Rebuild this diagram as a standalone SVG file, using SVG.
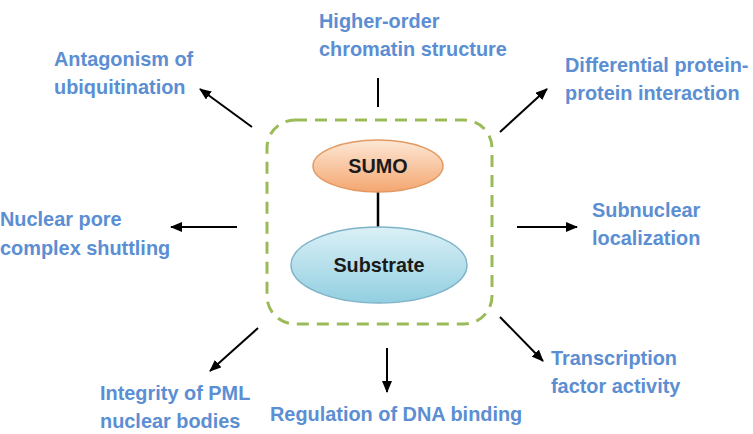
<svg xmlns="http://www.w3.org/2000/svg" width="753" height="434" viewBox="0 0 753 434">
<style>
.lbl{font-family:"Liberation Sans",Arial,sans-serif;font-weight:bold;font-size:19.9px;fill:#5b8ed2}
.nl{font-family:"Liberation Sans",Arial,sans-serif;font-weight:bold;font-size:19.8px;fill:#1a1a1a;text-anchor:middle}
.arr{stroke:#000;stroke-width:2;fill:none;marker-end:url(#ah)}
</style>
<defs>
<marker id="ah" viewBox="0 0 12 10" refX="11" refY="5" markerWidth="12" markerHeight="10" markerUnits="userSpaceOnUse" orient="auto">
<path d="M0,0 L12,5 L0,10 Z" fill="#000"/>
</marker>
<linearGradient id="gs" x1="0" y1="0" x2="0" y2="1">
<stop offset="0" stop-color="#fde8d6"/>
<stop offset="1" stop-color="#f4a670"/>
</linearGradient>
<linearGradient id="gb" x1="0" y1="0" x2="0" y2="1">
<stop offset="0" stop-color="#dbf0f6"/>
<stop offset="1" stop-color="#92cfe1"/>
</linearGradient>
</defs>
<rect width="753" height="434" fill="#fff"/>
<rect x="267" y="120" width="225" height="204" rx="28" fill="none" stroke="#9bbb59" stroke-width="3" stroke-dasharray="12,8"/>
<g id="connectors">
<line x1="378" y1="192" x2="378" y2="228" stroke="#000" stroke-width="2.5"/>
<line x1="378" y1="78" x2="378" y2="107" stroke="#000" stroke-width="2"/>
<line class="arr" x1="252" y1="127" x2="200" y2="89"/>
<line class="arr" x1="500" y1="132" x2="547" y2="89"/>
<line class="arr" x1="237" y1="227" x2="171" y2="227"/>
<line class="arr" x1="517" y1="227" x2="577" y2="227"/>
<line class="arr" x1="258" y1="328" x2="210" y2="371"/>
<line class="arr" x1="387" y1="348" x2="387" y2="392"/>
<line class="arr" x1="500" y1="317" x2="543" y2="361"/>
</g>
<g id="sumo">
<ellipse cx="378" cy="166" rx="65" ry="26" fill="url(#gs)" stroke="#e39a62" stroke-width="1.5"/>
<text class="nl" x="378" y="173">SUMO</text>
</g>
<g id="substrate">
<ellipse cx="379" cy="265" rx="88" ry="38" fill="url(#gb)" stroke="#7fb3c7" stroke-width="1.5"/>
<text class="nl" x="379" y="272">Substrate</text>
</g>
<g id="higher-order"><text class="lbl" x="319" y="28">Higher-order</text><text class="lbl" x="319" y="56">chromatin structure</text></g>
<g id="antagonism"><text class="lbl" x="54" y="66">Antagonism of</text><text class="lbl" x="54" y="94">ubiquitination</text></g>
<g id="differential"><text class="lbl" x="565" y="72">Differential protein-</text><text class="lbl" x="565" y="100">protein interaction</text></g>
<g id="nuclear-pore"><text class="lbl" x="0" y="226">Nuclear pore</text><text class="lbl" x="0" y="255">complex shuttling</text></g>
<g id="subnuclear"><text class="lbl" x="592" y="217">Subnuclear</text><text class="lbl" x="592" y="245">localization</text></g>
<g id="pml"><text class="lbl" x="100" y="400">Integrity of PML</text><text class="lbl" x="100" y="428">nuclear bodies</text></g>
<g id="dna"><text class="lbl" x="270" y="421">Regulation of DNA binding</text></g>
<g id="transcription"><text class="lbl" x="551" y="365">Transcription</text><text class="lbl" x="551" y="393">factor activity</text></g>
</svg>
